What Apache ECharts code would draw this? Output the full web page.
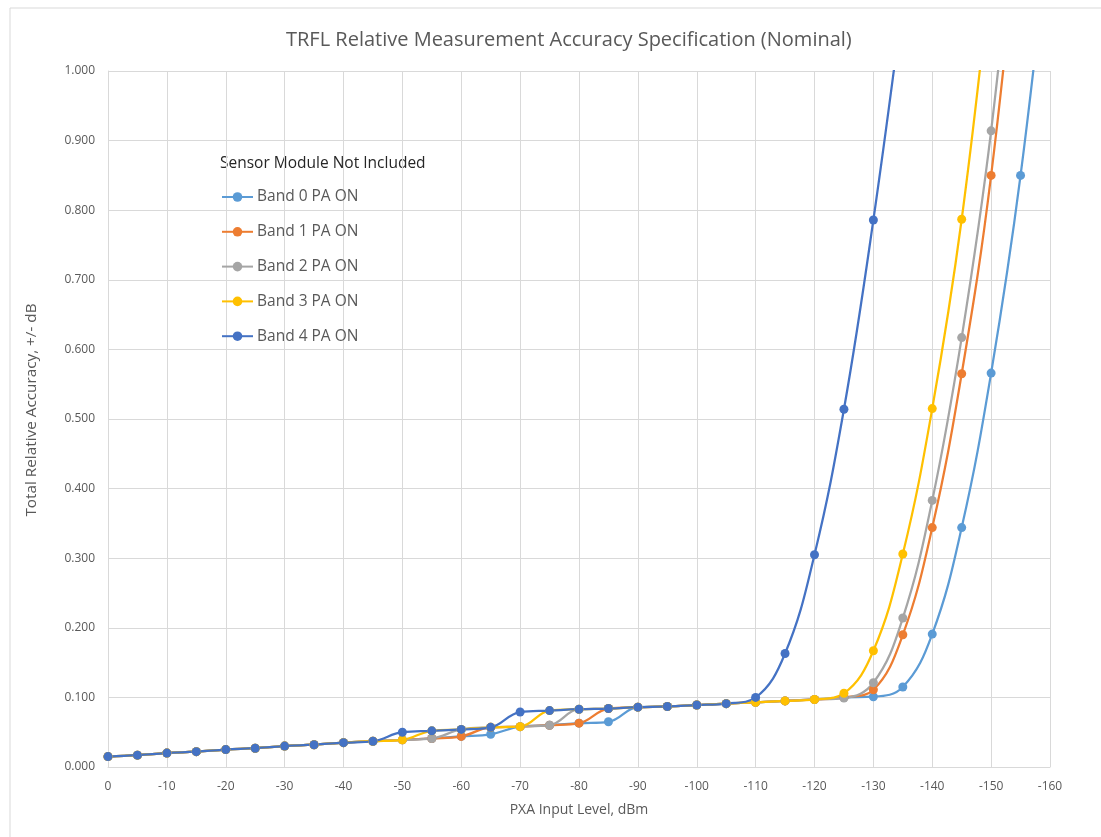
<!DOCTYPE html>
<html>
<head>
<meta charset="utf-8">
<script src="https://cdn.jsdelivr.net/npm/echarts@6/dist/echarts.min.js"></script>
<style>
html,body{margin:0;padding:0;background:#fff;}
#chart{width:1101px;height:837px;}
</style>
</head>
<body>
<div id="chart"></div>
<script>
const inputLevels = [0,-5,-10,-15,-20,-25,-30,-35,-40,-45,-50,-55,-60,-65,-70,-75,-80,-85,-90,-95,-100,-105,-110,-115,-120,-125,-130,-135,-140,-145,-150,-155,-160];
const band0 = [0.015,0.017,0.020,0.022,0.025,0.027,0.030,0.032,0.035,0.037,0.039,0.041,0.044,0.047,0.058,0.060,0.063,0.065,0.086,0.087,0.089,0.091,0.093,0.095,0.097,0.100,0.101,0.115,0.191,0.344,0.566,0.850,1.22];
const band1 = [0.015,0.017,0.020,0.022,0.025,0.027,0.030,0.032,0.035,0.037,0.039,0.041,0.044,0.057,0.058,0.060,0.063,0.084,0.086,0.087,0.089,0.091,0.093,0.095,0.097,0.100,0.111,0.190,0.344,0.565,0.850,1.25];
const band2 = [0.015,0.017,0.020,0.022,0.025,0.027,0.030,0.032,0.035,0.037,0.039,0.041,0.054,0.057,0.058,0.060,0.083,0.084,0.086,0.087,0.089,0.091,0.093,0.095,0.097,0.099,0.121,0.214,0.383,0.617,0.914,1.32];
const band3 = [0.015,0.017,0.020,0.022,0.025,0.027,0.030,0.032,0.035,0.037,0.039,0.052,0.054,0.057,0.058,0.081,0.083,0.084,0.086,0.087,0.089,0.091,0.093,0.095,0.097,0.106,0.167,0.306,0.515,0.787,1.15];
const band4 = [0.015,0.017,0.020,0.022,0.025,0.027,0.030,0.032,0.035,0.037,0.050,0.052,0.054,0.057,0.079,0.081,0.083,0.084,0.086,0.087,0.089,0.091,0.100,0.163,0.305,0.514,0.786,1.10];
const seriesNames = ['Band 0 PA ON','Band 1 PA ON','Band 2 PA ON','Band 3 PA ON','Band 4 PA ON'];
const seriesValues = [band0, band1, band2, band3, band4];
const colors = ['#5B9BD5','#ED7D31','#A5A5A5','#FFC000','#4472C4'];

const FONT = '"Open Sans", "Liberation Sans", sans-serif';
const chart = echarts.init(document.getElementById('chart'));
chart.setOption({
  animation: false,
  color: colors,
  textStyle: {fontFamily: FONT},
  title: {
    text: 'TRFL Relative Measurement Accuracy Specification (Nominal)',
    left: 281, top: 25,
    textStyle: {fontSize: 20, fontWeight: 'normal', color: '#595959', fontFamily: FONT}
  },
  graphic: [
    {type: 'rect', shape: {x: 10, y: 8, width: 1095, height: 835}, style: {fill: 'none', stroke: '#d9d9d9', lineWidth: 1}, silent: true},
    {type: 'text', left: 220, top: 156, style: {text: 'Sensor Module Not Included', fill: '#262626', font: '15.5px ' + FONT}},
    {type: 'text', x: 32, y: 410, rotation: Math.PI / 2,
     style: {text: 'Total Relative Accuracy, +/- dB', fill: '#595959', font: '15.3px ' + FONT, textAlign: 'center', textVerticalAlign: 'middle'}}
  ],
  legend: {
    orient: 'vertical', left: 221, top: 189, padding: 0, itemGap: 18.8, itemWidth: 31, itemHeight: 12,
    textStyle: {fontSize: 15.5, color: '#595959', fontFamily: FONT, padding: [0, 0, 0, -1]},
    data: seriesNames
  },
  grid: {left: 108, right: 51, top: 71, bottom: 70, containLabel: false},
  xAxis: {
    type: 'value', inverse: true, min: -160, max: 0, interval: 10,
    name: 'PXA Input Level, dBm', nameLocation: 'middle', nameGap: 36,
    nameTextStyle: {fontSize: 14, color: '#595959'},
    axisLine: {lineStyle: {color: '#d9d9d9'}},
    axisTick: {show: false},
    axisLabel: {fontSize: 12, color: '#595959', margin: 14},
    splitLine: {show: true, lineStyle: {color: '#d9d9d9'}}
  },
  yAxis: {
    type: 'value', min: 0, max: 1, interval: 0.1,
    axisLine: {show: true, lineStyle: {color: '#d9d9d9'}},
    axisTick: {show: false},
    axisLabel: {fontSize: 12, color: '#595959', margin: 13, formatter: v => v.toFixed(3)},
    splitLine: {show: true, lineStyle: {color: '#d9d9d9'}}
  },
  series: seriesValues.map((vals, i) => ({
    name: seriesNames[i],
    type: 'line',
    smooth: 0.4,
    symbol: 'circle',
    symbolSize: 9,
    clip: true,
    lineStyle: {width: 2.25, color: colors[i]},
    itemStyle: {color: colors[i]},
    data: vals.map((v, j) => [inputLevels[j], v])
  }))
});
</script>
</body>
</html>
